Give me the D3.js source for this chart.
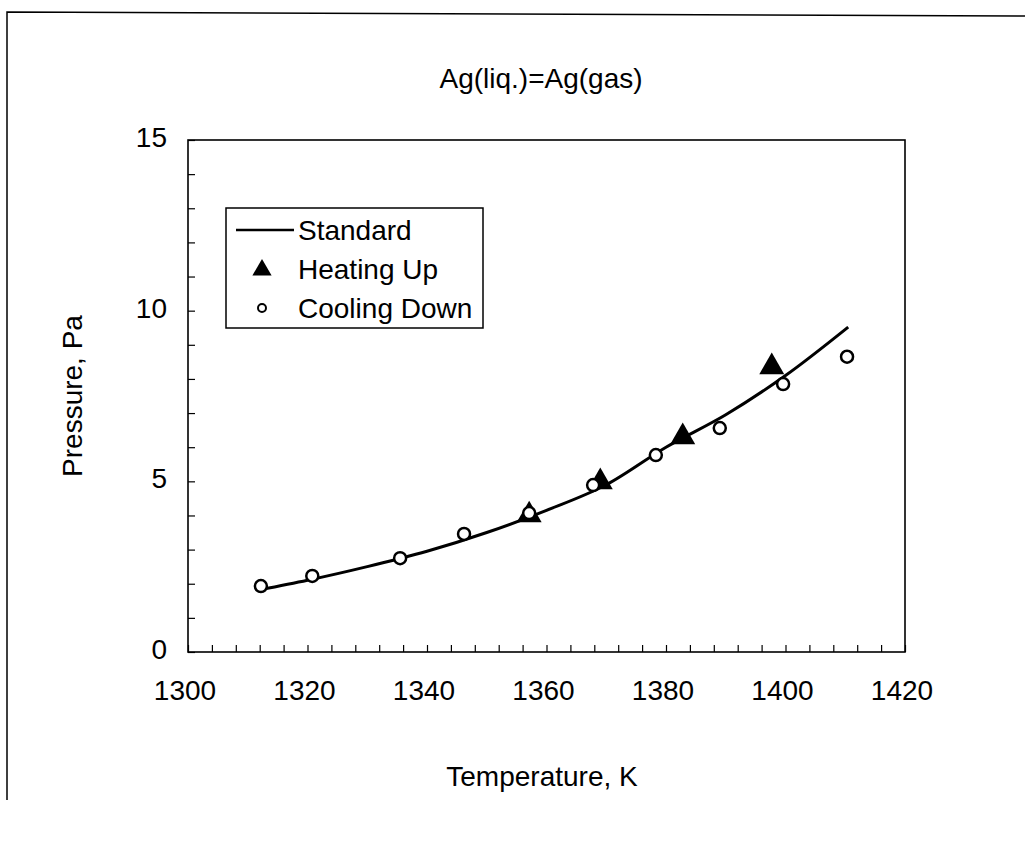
<!DOCTYPE html>
<html>
<head>
<meta charset="utf-8">
<script src="https://cdn.jsdelivr.net/npm/d3@7"></script>
<style>
body { margin: 0; background: #fff; }
text { font-family: "Liberation Sans", Arial, sans-serif; fill: #000; }
</style>
</head>
<body>
<div id="chart-area"></div>
<script>
// standard curve
const stdTemp = [1312, 1320, 1330, 1340, 1350, 1360, 1370, 1380, 1390, 1400, 1410.5]
const stdPress = [1.82, 2.10, 2.50, 2.95, 3.50, 4.15, 4.90, 6.00, 6.95, 8.10, 9.52]

// heating up (triangles)
const heatTemp = [1357.1, 1369.0, 1382.8, 1397.7]
const heatPress = [4.01, 4.98, 6.30, 8.35]

// cooling down (circles)
const coolTemp = [1312.2, 1320.8, 1335.5, 1346.2, 1357.1, 1367.8, 1378.3, 1389.0, 1399.6, 1410.3]
const coolPress = [1.93, 2.23, 2.75, 3.46, 4.07, 4.89, 5.77, 6.56, 7.85, 8.65]

const xTicks = [1300, 1320, 1340, 1360, 1380, 1400, 1420]
const yTicks = [0, 5, 10, 15]

const MARGIN = { LEFT: 188, TOP: 140, RIGHT: 120, BOTTOM: 189 }
const WIDTH = 1025 - MARGIN.LEFT - MARGIN.RIGHT
const HEIGHT = 841 - MARGIN.TOP - MARGIN.BOTTOM

const svg = d3.select('#chart-area')
.append('svg')
.attr('width', 1025)
.attr('height', 841)

// scanned page border (top + left)
svg.append('path')
.attr('d', 'M7,800 L7,12 L1025,16')
.attr('fill', 'none')
.attr('stroke', '#000')
.attr('stroke-width', 1.5)

const g = svg.append('g')
.attr('transform', `translate(${MARGIN.LEFT},${MARGIN.TOP})`)

const x = d3.scaleLinear().domain([1300, 1420]).range([0, WIDTH])
const y = d3.scaleLinear().domain([0, 15]).range([HEIGHT, 0])

// inward minor ticks
const xAxisCall = d3.axisTop(x)
.tickValues(d3.range(1300, 1421, 4))
.tickSize(7)
.tickFormat('')
g.append('g')
.attr('transform', `translate(0,${HEIGHT})`)
.call(xAxisCall)
.call(a => a.select('.domain').remove())
.call(a => a.selectAll('line').attr('stroke-width', 1.2))

const yAxisCall = d3.axisRight(y)
.tickValues(d3.range(0, 16, 1))
.tickSize(7)
.tickFormat('')
g.append('g')
.call(yAxisCall)
.call(a => a.select('.domain').remove())
.call(a => a.selectAll('line').attr('stroke-width', 1.2))

// plot frame
g.append('rect')
.attr('width', WIDTH)
.attr('height', HEIGHT)
.attr('fill', 'none')
.attr('stroke', '#000')
.attr('stroke-width', 1.6)

// tick labels
g.selectAll('.xlab').data(xTicks).enter().append('text')
.attr('x', d => x(d) - 3)
.attr('y', HEIGHT + 48)
.attr('text-anchor', 'middle')
.style('font-size', '28px')
.text(d => d)

g.selectAll('.ylab').data(yTicks).enter().append('text')
.attr('x', -21)
.attr('y', d => y(d) + 7)
.attr('text-anchor', 'end')
.style('font-size', '28px')
.text(d => d)

// titles
svg.append('text')
.attr('x', 541)
.attr('y', 88)
.attr('text-anchor', 'middle')
.style('font-size', '28px')
.text('Ag(liq.)=Ag(gas)')

svg.append('text')
.attr('x', 542)
.attr('y', 786)
.attr('text-anchor', 'middle')
.style('font-size', '28px')
.text('Temperature, K')

svg.append('text')
.attr('transform', 'translate(82,396) rotate(-90)')
.attr('text-anchor', 'middle')
.style('font-size', '28px')
.text('Pressure, Pa')

// standard line
const std = stdTemp.map((t, i) => ({ t: t, p: stdPress[i] }))
const line = d3.line()
.x(d => x(d.t))
.y(d => y(d.p))
.curve(d3.curveMonotoneX)

g.append('path')
.datum(std)
.attr('d', line)
.attr('fill', 'none')
.attr('stroke', '#000')
.attr('stroke-width', 3)

const tri = d3.symbol().type(d3.symbolTriangle)

const heat = heatTemp.map((t, i) => ({ t: t, p: heatPress[i] }))
g.selectAll('.heat').data(heat).enter().append('path')
.attr('d', tri.size(270))
.attr('transform', d => `translate(${x(d.t)},${y(d.p)})`)
.attr('fill', '#000')

const cool = coolTemp.map((t, i) => ({ t: t, p: coolPress[i] }))
g.selectAll('.cool').data(cool).enter().append('circle')
.attr('cx', d => x(d.t))
.attr('cy', d => y(d.p))
.attr('r', 6)
.attr('fill', '#fff')
.attr('stroke', '#000')
.attr('stroke-width', 2.5)

// legend
const legend = svg.append('g')
legend.append('rect')
.attr('x', 226)
.attr('y', 208)
.attr('width', 257)
.attr('height', 120)
.attr('fill', '#fff')
.attr('stroke', '#000')
.attr('stroke-width', 1.5)

const legendItems = ['Standard', 'Heating Up', 'Cooling Down']
legendItems.map((item, i) => {
	const row = legend.append('g')
	.attr('transform', `translate(0,${230 + i * 39})`)
	if (i === 0) {
		row.append('line')
		.attr('x1', 236).attr('x2', 294)
		.attr('stroke', '#000').attr('stroke-width', 2.5)
	} else if (i === 1) {
		row.append('path')
		.attr('d', tri.size(160))
		.attr('transform', 'translate(262,1)')
		.attr('fill', '#000')
	} else {
		row.append('circle')
		.attr('cx', 262).attr('r', 4)
		.attr('fill', '#fff')
		.attr('stroke', '#000')
		.attr('stroke-width', 2)
	}
	row.append('text')
	.attr('x', 298)
	.attr('y', 10)
	.style('font-size', '28px')
	.text(item)
})
</script>
</body>
</html>
